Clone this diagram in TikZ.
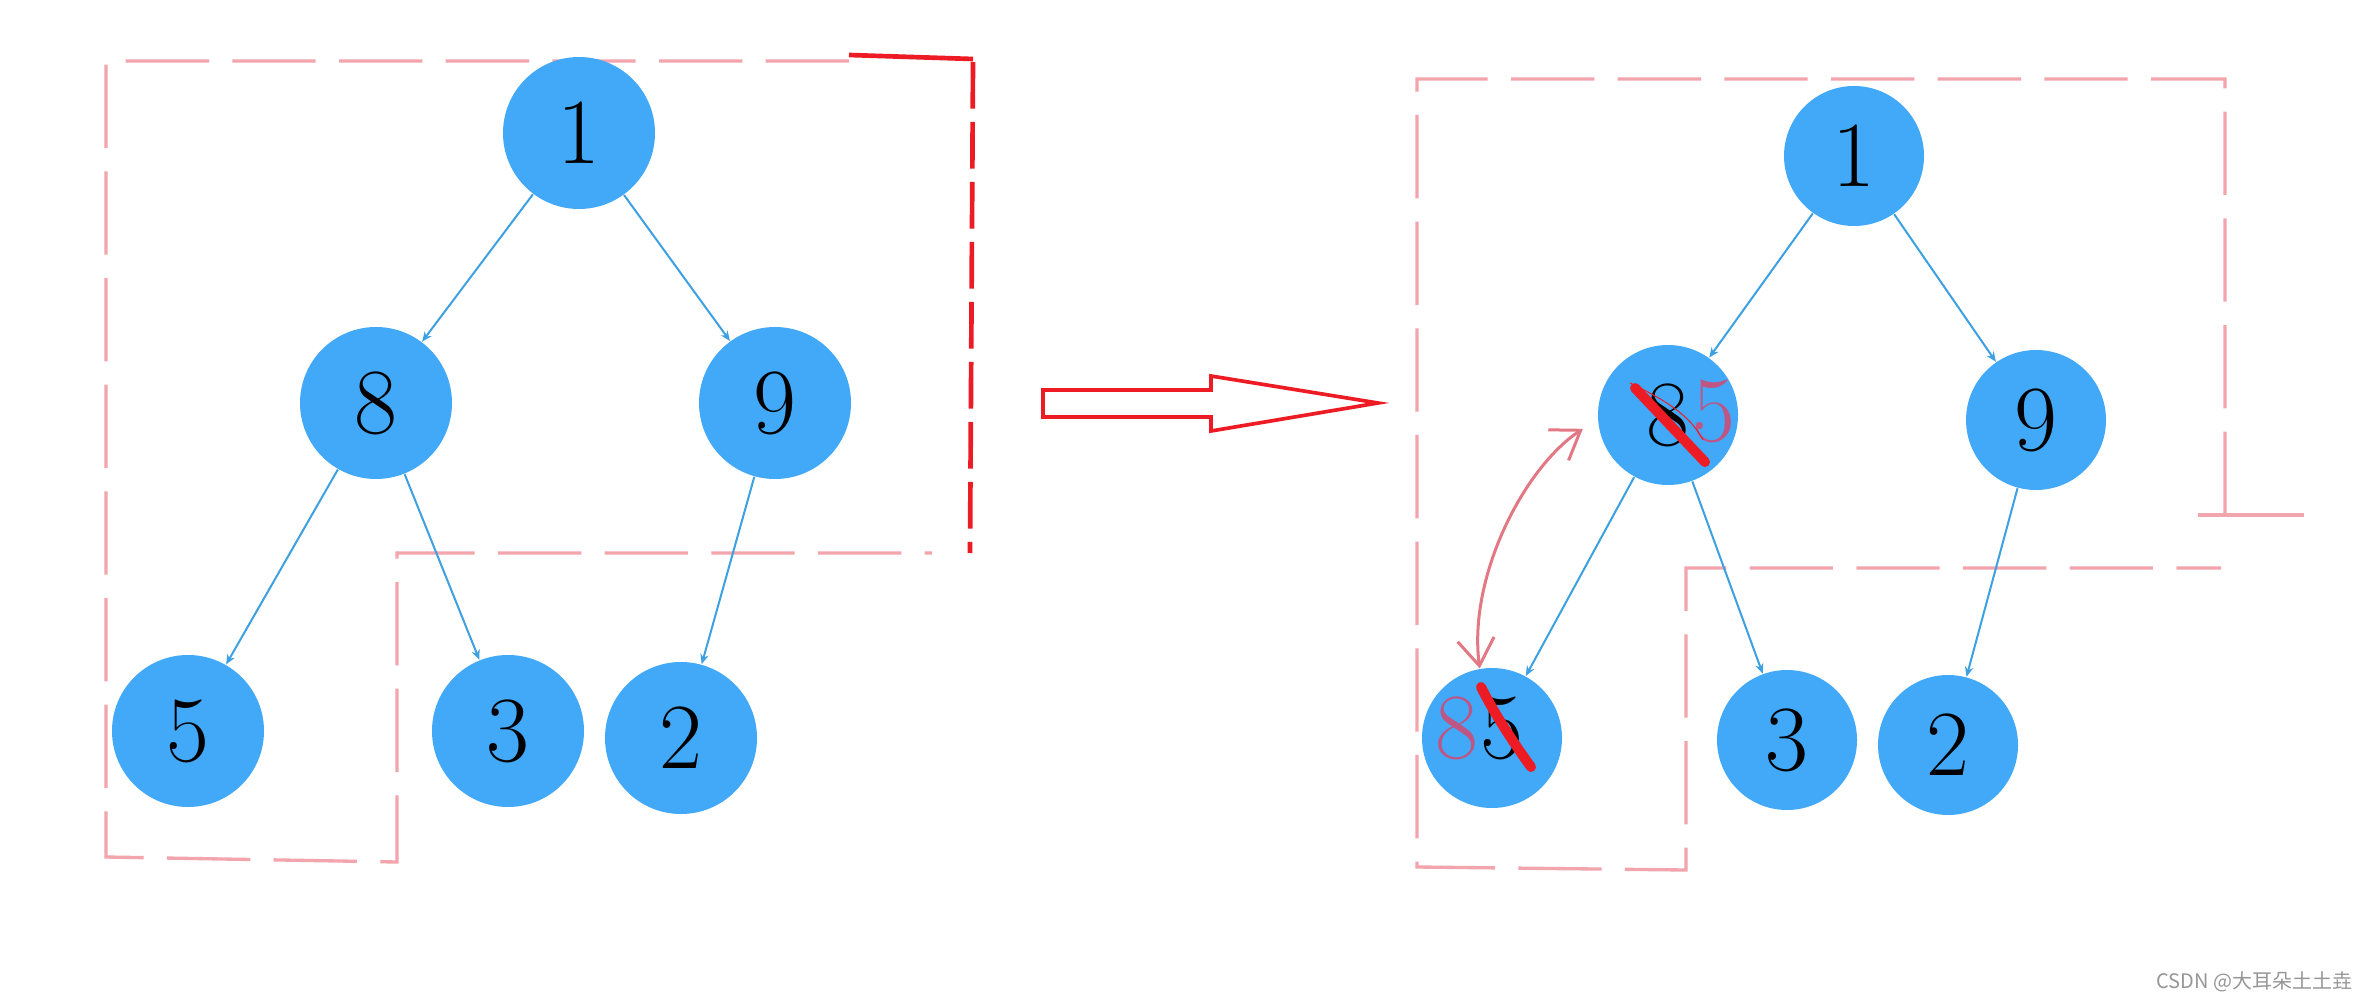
\documentclass[tikz,border=0pt]{standalone}
\usepackage{fontspec}
\newfontfamily\cjk{Noto Sans CJK SC}
\usetikzlibrary{arrows.meta,calc}
\definecolor{nodeblue}{RGB}{66,168,248}
\definecolor{edgeblue}{RGB}{60,160,225}
\definecolor{boxpink}{RGB}{242,165,172}
\definecolor{markred}{RGB}{237,28,36}
\definecolor{inkpink}{RGB}{190,85,130}
\definecolor{arrowpink}{RGB}{226,120,132}
\definecolor{wmgray}{RGB}{150,150,150}
\begin{document}
\begin{tikzpicture}[x=0.3pt,y=-0.3pt,
  bignode/.style={circle,fill=nodeblue,inner sep=0pt,minimum size=45.6pt,font=\fontsize{28}{30}\selectfont},
  smallnode/.style={bignode,minimum size=42pt},
  digit/.style={inner sep=0pt,font=\fontsize{28}{30}\selectfont},
  edge/.style={draw=edgeblue,line width=0.6pt,-{Stealth[length=3pt,width=2.5pt]}},
  pinkbox/.style={draw=boxpink,line width=1pt,dash pattern=on 25pt off 7pt},
  redsolid/.style={draw=markred,line width=1.4pt},
  reddash/.style={draw=markred,line width=1.4pt,dash pattern=on 14pt off 4pt},
  strike/.style={draw=markred,line width=3pt,line cap=round},
  swaparrow/.style={draw=arrowpink,line width=0.9pt,{Straight Barb[length=8pt,width=11pt]}-{Straight Barb[length=8pt,width=11pt]}},
  bigarrow/.style={draw=markred,line width=1.1pt,fill=white,line join=miter}
]
\useasboundingbox (0,0) rectangle (2377,1000);
\fill[white] (0,0) rectangle (2377,1000);

% ---------- left outline ----------
\draw[pinkbox] (849,61) -- (106,61) -- (106,857) -- (397,862) -- (397,553) -- (932,553);
\draw[redsolid] (849,55) -- (973,59);
\draw[reddash] (973,62) -- (970,553);

% ---------- right outline ----------
\draw[pinkbox] (2225,515) -- (2225,79) -- (1417,79) -- (1417,867) -- (1686,870) -- (1686,568) -- (2221,568);
\draw[draw=boxpink,line width=1pt] (2198,515) -- (2304,515);

% ---------- left tree ----------
\node[bignode] (l1) at (579,133) {1};
\node[bignode] (l8) at (376,403) {8};
\node[bignode] (l9) at (775,403) {9};
\node[bignode] (l5) at (188,731) {5};
\node[bignode] (l3) at (508,731) {3};
\node[bignode] (l2) at (681,738) {2};
\draw[edge] (l1) -- (l8);
\draw[edge] (l1) -- (l9);
\draw[edge] (l8) -- (l5);
\draw[edge] (l8) -- (l3);
\draw[edge] (l9) -- (l2);

% ---------- big arrow ----------
\draw[bigarrow] (1043,390) -- (1211,390) -- (1211,376) -- (1378,403) -- (1211,431) -- (1211,417) -- (1043,417) -- cycle;

% ---------- right tree ----------
\node[smallnode] (r1) at (1854,156) {1};
\node[smallnode] (r8) at (1668,415) {};
\node[smallnode] (r9) at (2036,420) {9};
\node[smallnode] (r85) at (1492,738) {};
\node[smallnode] (r3) at (1787,740) {3};
\node[smallnode] (r2) at (1948,745) {2};
\draw[edge] (r1) -- (r8);
\draw[edge] (r1) -- (r9);
\draw[edge] (r8) -- (r85);
\draw[edge] (r8) -- (r3);
\draw[edge] (r9) -- (r2);

% labels in swapped nodes
\node[digit] (r8old) at (1668,415) {8};
\node[digit,text=inkpink] (r8new) at (1714,411) {5};
\node[digit,text=inkpink] (r85new) at (1457,728) {8};
\node[digit] (r85old) at (1502,728) {5};

% strike-outs
\draw[strike] (1635,388) -- (1705,462);
\draw[markred,line width=0.3pt] (1630,383) .. controls (1665,400) and (1690,415) .. (1703,440);
\draw[strike] (1481,687) .. controls (1495,715) and (1515,745) .. (1531,767);

% swap arrow
\draw[swaparrow] (r85.100) .. controls +(-12,-90) and +(-60,40) .. ($(r8.198)+(-18,-8)$);

% watermark
\node[anchor=east,text=wmgray,font=\cjk\fontsize{6}{7}\selectfont,inner sep=0pt] (wm) at (2353,982) {CSDN @大耳朵土土垚};
\end{tikzpicture}
\end{document}
